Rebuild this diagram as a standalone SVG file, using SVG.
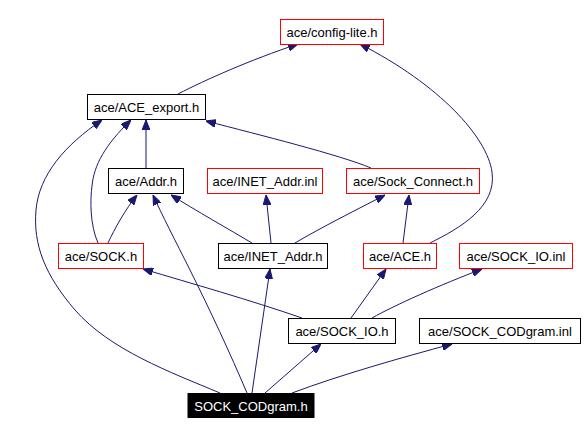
<svg xmlns="http://www.w3.org/2000/svg" width="586" height="435" viewBox="0 0 586 435">
<style>
.n rect{fill:#fff;stroke:#000;stroke-width:1}
.n.r rect{stroke:#f00}
.n.cur rect{fill:#000}
.n text{font-family:"Liberation Sans",Arial,sans-serif;font-size:13px;text-anchor:middle;fill:#000}
.n.cur text{fill:#fff}
#edges path{fill:none;stroke:#191970;stroke-width:1;marker-end:url(#ah)}
</style>
<defs>
<marker id="ah" viewBox="0 0 10 8" refX="10" refY="4" markerWidth="10" markerHeight="8" markerUnits="userSpaceOnUse" orient="auto">
<path d="M0,0 L10,4 L0,8 z" fill="#191970" stroke="#191970" stroke-width="1"/>
</marker>
</defs>
<rect width="586" height="435" fill="#fff"/>
<g id="edges">
<path d="M178,94 C205,80 250,60 298,44"/>
<path d="M430,243 C460,228 497,207 492,172 C487,137 440,85 360,44"/>
<path d="M220,393 C170,372 110,350 75,310 C45,275 33,245 36,210 C39,175 65,145 102,120"/>
<path d="M98,243 C90,225 90,200 92,186 C94,165 105,145 131,120"/>
<path d="M146,168 L146,120"/>
<path d="M371,168 C340,155 260,135 206,121"/>
<path d="M108,243 C115,228 125,210 137,195"/>
<path d="M247,393 C230,353 210,310 190,270 C175,240 162,215 153,195"/>
<path d="M252,243 C230,230 195,210 171,195"/>
<path d="M271,243 L266,195"/>
<path d="M295,243 C320,228 360,208 385,195"/>
<path d="M403,243 L409,195"/>
<path d="M252,393 L270,269"/>
<path d="M302,318 C250,300 190,283 143,269"/>
<path d="M351,318 L386,269"/>
<path d="M372,318 C395,305 440,285 482,269"/>
<path d="M265,393 L321,344"/>
<path d="M292,393 C340,375 400,358 452,344"/>
</g>
<g id="config-lite" class="n r"><rect x="280.5" y="19.5" width="103" height="25"/><text x="332" y="37">ace/config-lite.h</text></g>
<g id="ACE_export" class="n"><rect x="87.5" y="94.5" width="118" height="25"/><text x="146.5" y="112">ace/ACE_export.h</text></g>
<g id="Addr" class="n"><rect x="108.5" y="168.5" width="75" height="25"/><text x="146" y="186">ace/Addr.h</text></g>
<g id="INET_Addr_inl" class="n r"><rect x="207.5" y="168.5" width="115" height="25"/><text x="265" y="186">ace/INET_Addr.inl</text></g>
<g id="Sock_Connect" class="n r"><rect x="346.5" y="168.5" width="133" height="25"/><text x="413" y="186">ace/Sock_Connect.h</text></g>
<g id="SOCK" class="n r"><rect x="58.5" y="243.5" width="85" height="25"/><text x="101" y="261">ace/SOCK.h</text></g>
<g id="INET_Addr" class="n"><rect x="218.5" y="243.5" width="109" height="25"/><text x="273" y="261">ace/INET_Addr.h</text></g>
<g id="ACE" class="n r"><rect x="363.5" y="243.5" width="73" height="25"/><text x="400" y="261">ace/ACE.h</text></g>
<g id="SOCK_IO_inl" class="n r"><rect x="459.5" y="243.5" width="113" height="25"/><text x="516" y="261">ace/SOCK_IO.inl</text></g>
<g id="SOCK_IO" class="n"><rect x="288.5" y="318.5" width="107" height="25"/><text x="342" y="336">ace/SOCK_IO.h</text></g>
<g id="SOCK_CODgram_inl" class="n"><rect x="419.5" y="318.5" width="161" height="25"/><text x="500" y="336">ace/SOCK_CODgram.inl</text></g>
<g id="SOCK_CODgram" class="n cur"><rect x="188" y="393.5" width="126" height="24"/><text x="251" y="410.5">SOCK_CODgram.h</text></g>
</svg>
